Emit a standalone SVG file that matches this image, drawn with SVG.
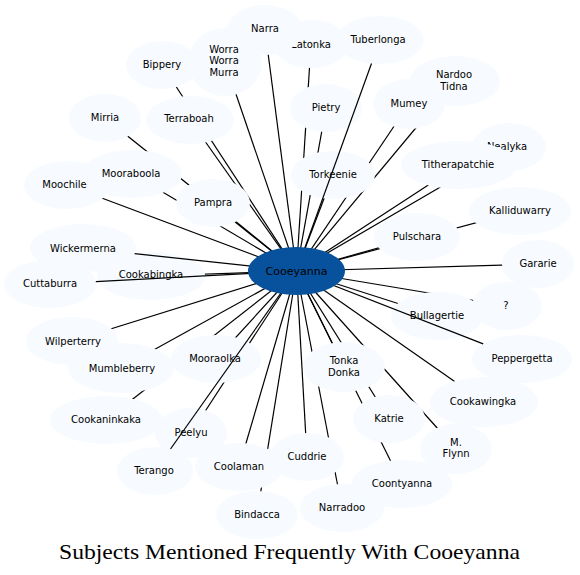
<svg xmlns="http://www.w3.org/2000/svg" width="580" height="575" viewBox="0 0 580 575">
<style>
.n ellipse{fill:#f7fbff;stroke:none}
.c ellipse{fill:#08519c;stroke:none}
text{font-family:"DejaVu Sans","Liberation Sans",sans-serif;font-size:10px;fill:#000;text-anchor:middle}
.c text{font-size:11px}
.e line{stroke:#000;stroke-width:1.2}
.title{font-family:"Liberation Serif","DejaVu Serif",serif;font-size:21.5px}
</style>
<rect width="580" height="575" fill="#fff"/>
<g id="connectors" class="e">
<line x1="265" y1="30" x2="296.5" y2="271"/>
<line x1="311" y1="44" x2="296.5" y2="271"/>
<line x1="225" y1="62" x2="296.5" y2="271"/>
<line x1="162" y1="65" x2="296.5" y2="271"/>
<line x1="105" y1="118" x2="296.5" y2="271"/>
<line x1="190" y1="120" x2="296.5" y2="271"/>
<line x1="132" y1="174" x2="296.5" y2="271"/>
<line x1="67" y1="185" x2="296.5" y2="271"/>
<line x1="213" y1="203" x2="296.5" y2="271"/>
<line x1="151" y1="276" x2="296.5" y2="271"/>
<line x1="326" y1="108" x2="296.5" y2="271"/>
<line x1="409" y1="104" x2="296.5" y2="271"/>
<line x1="455" y1="81" x2="296.5" y2="271"/>
<line x1="333" y1="175" x2="296.5" y2="271"/>
<line x1="509" y1="147" x2="296.5" y2="271"/>
<line x1="459" y1="165" x2="296.5" y2="271"/>
<line x1="520" y1="211" x2="296.5" y2="271"/>
<line x1="417" y1="237" x2="296.5" y2="271"/>
<line x1="538" y1="264" x2="296.5" y2="271"/>
<line x1="507" y1="306" x2="296.5" y2="271"/>
<line x1="437" y1="316" x2="296.5" y2="271"/>
<line x1="344" y1="367" x2="296.5" y2="271"/>
<line x1="484" y1="402" x2="296.5" y2="271"/>
<line x1="389" y1="419" x2="296.5" y2="271"/>
<line x1="456" y1="449" x2="296.5" y2="271"/>
<line x1="307" y1="457" x2="296.5" y2="271"/>
<line x1="402" y1="484" x2="296.5" y2="271"/>
<line x1="342" y1="508" x2="296.5" y2="271"/>
<line x1="72" y1="341" x2="296.5" y2="271"/>
<line x1="121" y1="368" x2="296.5" y2="271"/>
<line x1="216" y1="359" x2="296.5" y2="271"/>
<line x1="106" y1="420" x2="296.5" y2="271"/>
<line x1="191" y1="433" x2="296.5" y2="271"/>
<line x1="239" y1="467" x2="296.5" y2="271"/>
<line x1="257" y1="515" x2="296.5" y2="271"/>
</g>
<g id="nodes">
<g id="n-latonka" class="n"><ellipse cx="311" cy="44" rx="38" ry="24"/><text x="311" y="47.5">Latonka</text></g>
<g id="n-narra" class="n"><ellipse cx="265" cy="30" rx="38" ry="25"/><text x="265" y="31.5">Narra</text></g>
<g id="n-tuberlonga" class="n"><ellipse cx="380" cy="40" rx="44" ry="24"/><text x="378" y="42.5">Tuberlonga</text></g>
<g id="n-bippery" class="n"><ellipse cx="162" cy="65" rx="36" ry="24"/><text x="162" y="68">Bippery</text></g>
<g id="n-worra" class="n"><ellipse cx="225" cy="62" rx="37" ry="34"/><text x="224" y="52.5">Worra</text><text x="224" y="64">Worra</text><text x="224" y="76">Murra</text></g>
<g id="n-terraboah" class="n"><ellipse cx="190" cy="120" rx="44" ry="24"/><text x="189" y="122">Terraboah</text></g>
<g id="n-mirria" class="n"><ellipse cx="105" cy="118" rx="36" ry="24"/><text x="105" y="121">Mirria</text></g>
<g id="n-moochile" class="n"><ellipse cx="67" cy="185" rx="43" ry="24"/><text x="64.5" y="188">Moochile</text></g>
<g id="n-mooraboola" class="n"><ellipse cx="132" cy="174" rx="50" ry="24"/><text x="131" y="177">Mooraboola</text></g>
<g id="n-pampra" class="n"><ellipse cx="213" cy="203" rx="37" ry="24"/><text x="213" y="206">Pampra</text></g>
<g id="n-pietry" class="n"><ellipse cx="326" cy="108" rx="36" ry="24"/><text x="326" y="111">Pietry</text></g>
<g id="n-torkeenie" class="n"><ellipse cx="333" cy="175" rx="42" ry="24"/><text x="333" y="177.5">Torkeenie</text></g>
<g id="n-nardoo" class="n"><ellipse cx="455" cy="81" rx="45" ry="25"/><text x="454" y="77.5">Nardoo</text><text x="454" y="89.5">Tidna</text></g>
<g id="n-mumey" class="n"><ellipse cx="409" cy="104" rx="36" ry="25"/><text x="409" y="107">Mumey</text></g>
<g id="n-nealyka" class="n"><ellipse cx="509" cy="147" rx="37" ry="24"/><text x="507" y="150">Nealyka</text></g>
<g id="n-titherapatchie" class="n"><ellipse cx="459" cy="165" rx="58" ry="24"/><text x="458" y="167.5">Titherapatchie</text></g>
<g id="n-kalliduwarry" class="n"><ellipse cx="520" cy="211" rx="51" ry="24"/><text x="520" y="213.5">Kalliduwarry</text></g>
<g id="n-pulschara" class="n"><ellipse cx="417" cy="237" rx="43" ry="24"/><text x="417" y="240">Pulschara</text></g>
<g id="n-gararie" class="n"><ellipse cx="538" cy="264" rx="36" ry="24"/><text x="538" y="267">Gararie</text></g>
<g id="n-q" class="n"><ellipse cx="507" cy="306" rx="35" ry="24"/><text x="506" y="308.5">?</text></g>
<g id="n-bullagertie" class="n"><ellipse cx="437" cy="316" rx="46" ry="24"/><text x="437" y="318.5">Bullagertie</text></g>
<g id="n-peppergetta" class="n"><ellipse cx="522" cy="359" rx="50" ry="24"/><text x="522" y="362">Peppergetta</text></g>
<g id="n-cookawingka" class="n"><ellipse cx="484" cy="402" rx="54" ry="25"/><text x="483" y="404.5">Cookawingka</text></g>
<g id="n-tonkadonka" class="n"><ellipse cx="344" cy="367" rx="41" ry="25"/><text x="344" y="363.5">Tonka</text><text x="344" y="375.5">Donka</text></g>
<g id="n-katrie" class="n"><ellipse cx="389" cy="419" rx="36" ry="24"/><text x="389" y="421.5">Katrie</text></g>
<g id="n-mflynn" class="n"><ellipse cx="456" cy="449" rx="36" ry="25"/><text x="456" y="445.5">M.</text><text x="456" y="457">Flynn</text></g>
<g id="n-coontyanna" class="n"><ellipse cx="402" cy="484" rx="50" ry="24"/><text x="402" y="486.5">Coontyanna</text></g>
<g id="n-cuddrie" class="n"><ellipse cx="307" cy="457" rx="37" ry="24"/><text x="307" y="460">Cuddrie</text></g>
<g id="n-narradoo" class="n"><ellipse cx="342" cy="508" rx="42" ry="24"/><text x="342" y="510.5">Narradoo</text></g>
<g id="n-wickermerna" class="n"><ellipse cx="83" cy="248" rx="53" ry="24"/><text x="83" y="251.5">Wickermerna</text></g>
<g id="n-cuttaburra" class="n"><ellipse cx="50" cy="284" rx="46" ry="24"/><text x="50" y="286.5">Cuttaburra</text></g>
<g id="n-cookabingka" class="n"><ellipse cx="151" cy="276" rx="54" ry="24"/><text x="151" y="277.5">Cookabingka</text></g>
<g id="n-mumbleberry" class="n"><ellipse cx="121" cy="368" rx="53" ry="25"/><text x="122" y="371.5">Mumbleberry</text></g>
<g id="n-wilperterry" class="n"><ellipse cx="72" cy="341" rx="46" ry="24"/><text x="73" y="344.5">Wilperterry</text></g>
<g id="n-cookaninkaka" class="n"><ellipse cx="106" cy="420" rx="56" ry="24"/><text x="106" y="422.5">Cookaninkaka</text></g>
<g id="n-mooraolka" class="n"><ellipse cx="216" cy="359" rx="45" ry="24"/><text x="215" y="361.5">Mooraolka</text></g>
<g id="n-peelyu" class="n"><ellipse cx="191" cy="433" rx="36" ry="25"/><text x="191" y="435.5">Peelyu</text></g>
<g id="n-terango" class="n"><ellipse cx="155" cy="471" rx="38" ry="24"/><text x="154" y="473.5">Terango</text></g>
<g id="n-coolaman" class="n"><ellipse cx="239" cy="467" rx="44" ry="24"/><text x="239" y="470">Coolaman</text></g>
<g id="n-bindacca" class="n"><ellipse cx="257" cy="515" rx="41" ry="24"/><text x="257" y="517.5">Bindacca</text></g>
</g>
<g id="connectors-over" class="e">
<line x1="371.5" y1="63.5" x2="296.5" y2="271"/>
<line x1="170.5" y1="449" x2="296.5" y2="271"/>
<line x1="483.2" y1="343.9" x2="296.5" y2="271"/>
<line x1="95.8" y1="281.6" x2="296.5" y2="271"/>
<line x1="134.6" y1="253.6" x2="296.5" y2="271"/>
</g>
<g id="n-cooeyanna" class="c"><ellipse cx="296.5" cy="271" rx="48.5" ry="24"/><text x="296.5" y="274.5">Cooeyanna</text></g>
<text class="title" x="289.5" y="559" textLength="461" lengthAdjust="spacingAndGlyphs">Subjects Mentioned Frequently With Cooeyanna</text>
</svg>
